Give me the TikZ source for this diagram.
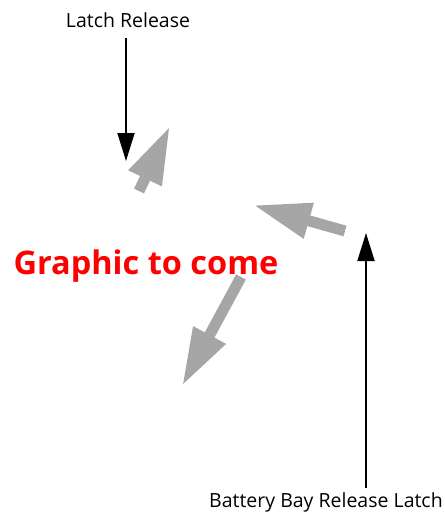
\documentclass[tikz,border=0pt]{standalone}
\usepackage{fontspec}
\setmainfont{Open Sans}
\usepackage{xcolor}
\usetikzlibrary{arrows.meta,calc}
\definecolor{arrGray}{HTML}{A6A6A6}
\definecolor{tbcRed}{HTML}{FF0000}

\begin{document}
\begin{tikzpicture}[x=1pt, y=-1pt,
  lbl/.style={font=\fontsize{19.5}{23}\selectfont, inner xsep=2pt, anchor=base},
  blk/.style={line width=1.8pt, -{Triangle[length=28pt,width=17pt]}},
  grayarr/.style={arrGray, line width=11pt, -{Triangle[length=58pt,width=34pt]}}]
\useasboundingbox (0,0) rectangle (445,515);
\node[lbl, inner ysep=11pt] (latch) at (128,27) {Latch Release};
\node[lbl, inner ysep=4pt] (bay) at (326,507) {Battery Bay Release Latch};
\node[font=\bfseries\fontsize{32.5}{38}\selectfont, text=tbcRed, anchor=base] (tbc) at (146,274) {Graphic to come};
\coordinate (lt) at (126,161);
\coordinate (bt) at (366,233);
\draw[blk] (latch.south -| lt) -- (lt);
\draw[blk] (bay.north -| bt) -- (bt);
\coordinate (aTail) at (139,191);
\coordinate (aTip) at (170,126);
\coordinate (bTail) at (345,231);
\coordinate (bTip) at (253,205);
\coordinate (cTail) at (241,277);
\coordinate (cTip) at (182,386);
\draw[grayarr] (aTail) -- (aTip);
\draw[grayarr] (bTail) -- (bTip);
\draw[grayarr] (cTail) -- (cTip);
\end{tikzpicture}
\end{document}
